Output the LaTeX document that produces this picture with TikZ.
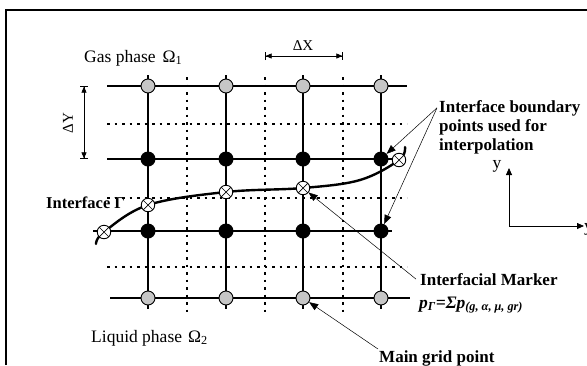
\documentclass[tikz,border=0pt]{standalone}
\usepackage{fontspec}
\setmainfont{Liberation Serif}
\usetikzlibrary{arrows.meta}

\tikzset{
  gridline/.style={line width=1.2pt},
  halfline/.style={line width=1.3pt, dash pattern=on 2.5pt off 5pt},
  gaspt/.style={circle, draw, line width=0.9pt, fill=gray!45, minimum size=14pt, inner sep=0pt},
  solidpt/.style={circle, fill=black, minimum size=15pt, inner sep=0pt},
  marker/.style={circle, draw, line width=0.9pt, fill=white, minimum size=13.5pt, inner sep=0pt,
    path picture={\draw[line width=0.7pt] (path picture bounding box.north west) -- (path picture bounding box.south east)
      (path picture bounding box.north east) -- (path picture bounding box.south west);}},
  iface/.style={line width=2.4pt, line cap=round},
  pointer/.style={line width=0.5pt, -{Triangle[length=9pt,width=7pt]}},
  dimline/.style={line width=0.6pt, {Bar[width=8pt]Triangle[length=6pt,width=5pt]}-{Triangle[length=6pt,width=5pt]Bar[width=8pt]}},
  axis/.style={line width=0.8pt, -{Triangle[length=7pt,width=6pt]}},
  lbl/.style={font=\fontsize{17}{19.5}\selectfont\bfseries, inner sep=1pt},
  phase/.style={font=\fontsize{17.5}{20}\selectfont, inner sep=1pt},
  steplbl/.style={font=\fontsize{15}{17}\selectfont, inner sep=1pt},
}

\begin{document}
\begin{tikzpicture}[x=1pt, y=-1pt]
  \useasboundingbox (0,0) rectangle (587,365);

  % cadre
  \draw[line width=1.4pt] (6,365) -- (6,10) -- (587,10);

  % maillage principal
  \foreach \r/\xa/\xb in {86/107/407, 159/107/400, 231/93/392, 298/110/410}
    \draw[gridline] (\xa,\r) -- (\xb,\r);
  \foreach \c in {148,226,303,381}
    \draw[gridline] (\c,75) -- (\c,309);

  % demi-mailles
  \foreach \c in {187,265,343}
    \draw[halfline] (\c,77) -- (\c,312);
  \foreach \r in {124,198,267}
    \draw[halfline] (107,\r) -- (407,\r);

  % interface
  \coordinate (m0) at (104,232);
  \coordinate (m1) at (148,205);
  \coordinate (m2) at (226,192);
  \coordinate (m3) at (303,188);
  \coordinate (m4) at (399,160);
  \draw[iface] plot[smooth, tension=0.6] coordinates {(96,244) (m0) (m1) (m2) (m3) (360,180) (m4) (405,147)};

  % points du maillage
  \foreach \c [count=\i] in {148,226,303,381} {
    \node[gaspt] (g\i) at (\c,86) {};
    \node[solidpt] (a\i) at (\c,159) {};
    \node[solidpt] (b\i) at (\c,231) {};
    \node[gaspt] (l\i) at (\c,298) {};
  }

  % marqueurs
  \foreach \k in {0,...,4}
    \node[marker] (mk\k) at (m\k) {};

  % pas du maillage
  \draw[dimline] (84,86) -- (84,159);
  \node[steplbl, rotate=90] (dy) at (68,123) {ΔY};
  \draw[dimline] (265,56) -- (343,56);
  \node[steplbl] (dx) at (303,46) {ΔX};

  % textes
  \node[phase, anchor=base west] (gas) at (83,62) {Gas phase\hspace{7pt}Ω\textsubscript{1}};
  \node[phase, anchor=base west] (liq) at (90,342) {Liquid phase\hspace{6pt}Ω\textsubscript{2}};
  \node[lbl, font=\fontsize{16.5}{19}\selectfont\bfseries, anchor=base west] (gam) at (45,208) {Interface Γ};
  \node[lbl, anchor=base west] (ibp1) at (438,112) {Interface boundary};
  \node[lbl, anchor=base west] (ibp2) at (438,131) {points used for};
  \node[lbl, anchor=base west] (ibp3) at (438,150) {interpolation};
  \node[lbl, anchor=base west] (im) at (419,285) {Interfacial Marker};
  \node[lbl, anchor=base west, font=\fontsize{17.5}{20}\selectfont\bfseries\itshape] (pg) at (418,308)
    {p\textsubscript{Γ}=Σp\textsubscript{(g, α, μ, gr)}};
  \node[lbl, anchor=base west] (mgp) at (378,362) {Main grid point};

  % fleches
  \draw[pointer] ([xshift=-1pt]ibp1.west) -- (a4);
  \draw[pointer] ([xshift=-1pt]ibp1.west) -- (b4);
  \draw[pointer] ([xshift=-3pt]im.west) -- (mk3);
  \draw[pointer] (mgp.north west) -- (l3);

  % axes
  \coordinate (O) at (509,226);
  \draw[axis] (O) -- (509,168);
  \draw[axis] (O) -- (584,226);
  \node[phase] (ya) at (497,166) {y};
  \node[phase, anchor=west] (yb) at (583,229) {y};
\end{tikzpicture}
\end{document}
